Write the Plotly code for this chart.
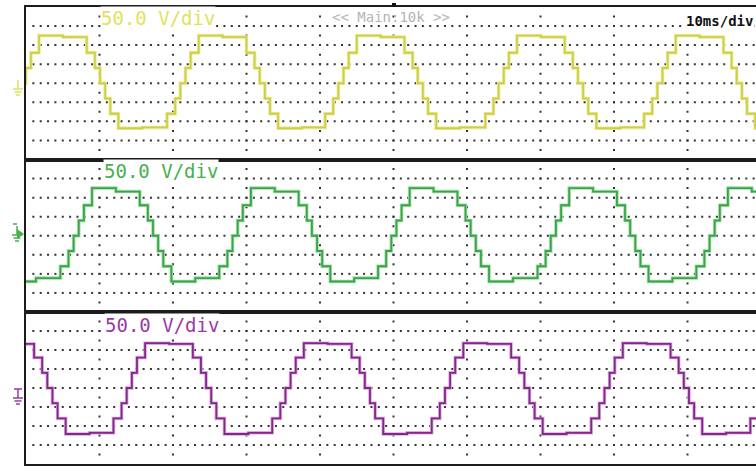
import plotly.graph_objects as go

# ---------------- scope settings / values ----------------
TIME_PER_DIV_MS = 10
VOLTS_PER_DIV = 50
X_RANGE_MS = [0, 99.32]        # screen is cropped on the right
Y_RANGE_V = [-200, 200]        # 8 vertical divisions

# shape of one edge of the 7-level staircase (V and ms after the plateau ends)
fall_levels_v = [80, 40, 0, -40, -80]
fall_offsets_ms = [0.0, 1.1, 1.8, 2.5, 3.2]
edge_ms = 4.3
plateau_ms = 6.5
period_ms = 21.65

# start of each positive plateau (ms), per channel
yellow_starts = [-19.9, 1.77, 23.5, 45.0, 66.8, 88.4]
green_starts = [-12.7, 8.98, 30.6, 52.2, 73.9, 95.5]
purple_starts = [-5.4, 16.2, 37.8, 59.5, 81.2]

# plateau levels (start, end) in V
yellow_top = [125, 121]
yellow_bot = [-118, -116]
green_top = [125, 116]
green_bot = [-120, -111]
purple_top = [118, 116]
purple_bot = [-121, -118]

labels = ["50.0 V/div", "50.0 V/div", "50.0 V/div"]
timebase_label = "10ms/div"
mode_label = "<< Main:10k >>"

# ---------------- geometry ----------------
W, H = 756, 466
ML, MR, MT, MB = 26, 0, 7, 2
PW = W - ML - MR
PH = H - MT - MB
panel_edges_px = [7, 159.5, 312, 464]


def px(x):
    return (x - ML) / PW


def py(y):
    return (H - MB - y) / PH


def staircase(starts, top, bot):
    xs, ys = [], []
    for i, ts in enumerate(starts):
        tn = starts[i + 1] if i + 1 < len(starts) else ts + period_ms
        xs += [ts, ts + plateau_ms / 2]
        ys += [top[0], top[1]]
        te = ts + plateau_ms
        for lv, off in zip(fall_levels_v, fall_offsets_ms):
            xs.append(te + off)
            ys.append(lv)
        tb = te + edge_ms
        xs += [tb, tb + plateau_ms / 2]
        ys += [bot[0], bot[1]]
        tr = tn - edge_ms
        for lv, off in zip(fall_levels_v[::-1], fall_offsets_ms):
            xs.append(tr + off)
            ys.append(lv)
    return xs, ys


fig = go.Figure()

axis_ids = [("x", "y"), ("x2", "y2"), ("x3", "y3")]

# dotted graticule
row_x = [float(k) for k in range(1, 100)]
row_levels = [-150, -100, -50, 0, 50, 100, 150]
col_x = [10, 20, 30, 40, 50, 60, 70, 80, 90]
col_levels = [25 * k for k in range(-7, 8)]
for xa, ya in axis_ids:
    gx, gy = [], []
    for lv in row_levels:
        gx += row_x
        gy += [lv] * len(row_x)
    for cx in col_x:
        gx += [cx] * len(col_levels)
        gy += col_levels
    fig.add_trace(go.Scatter(x=gx, y=gy, mode="markers", xaxis=xa, yaxis=ya,
                             marker=dict(size=2, color="#333333", symbol="square", line=dict(width=0)),
                             hoverinfo="skip", showlegend=False))

channels = [
    (yellow_starts, yellow_top, yellow_bot, "#cfcf45", "#eaea9a"),
    (green_starts, green_top, green_bot, "#36a843", "#a8dcae"),
    (purple_starts, purple_top, purple_bot, "#86258e", "#d7acdb"),
]
for (xa, ya), (starts, top, bot, col, halo) in zip(axis_ids, channels):
    xs, ys = staircase(starts, top, bot)
    fig.add_trace(go.Scatter(x=xs, y=ys, mode="lines", line_shape="hv", xaxis=xa, yaxis=ya,
                             line=dict(color=halo, width=3.5), hoverinfo="skip", showlegend=False))
    fig.add_trace(go.Scatter(x=xs, y=ys, mode="lines", line_shape="hv", xaxis=xa, yaxis=ya,
                             line=dict(color=col, width=1.8), hoverinfo="skip", showlegend=False))

layout = dict(width=W, height=H, margin=dict(l=ML, r=MR, t=MT, b=MB),
              paper_bgcolor="white", plot_bgcolor="white", showlegend=False)
for i, (xa, ya) in enumerate(axis_ids):
    sfx = "" if i == 0 else str(i + 1)
    dom = [py(panel_edges_px[i + 1]), py(panel_edges_px[i])]
    layout["xaxis" + sfx] = dict(range=X_RANGE_MS, domain=[0, 1], anchor=ya, showgrid=False,
                                 zeroline=False, showticklabels=False, ticks="", showline=True,
                                 mirror=True, linecolor="#1c1c1c", linewidth=2)
    layout["yaxis" + sfx] = dict(range=Y_RANGE_V, domain=dom, anchor=xa, showgrid=False,
                                 zeroline=False, showticklabels=False, ticks="", showline=True,
                                 mirror=False, linecolor="#1c1c1c", linewidth=2)
fig.update_layout(**layout)

# text labels
text_cols = ["#e2e25a", "#45b04e", "#9a3aa6"]
text_pos = [(158, 18), (161, 171), (162, 325)]
for lab, c, (tx, ty) in zip(labels, text_cols, text_pos):
    fig.add_annotation(x=px(tx), y=py(ty), xref="paper", yref="paper", text=lab, showarrow=False,
                       font=dict(family="DejaVu Sans Mono", size=19, color=c),
                       bgcolor="white", borderpad=0, xanchor="center", yanchor="middle")
fig.add_annotation(x=px(755), y=py(21), xref="paper", yref="paper", text="<b>" + timebase_label + "</b>",
                   showarrow=False, font=dict(family="DejaVu Sans Mono", size=14, color="#111111"),
                   bgcolor="white", borderpad=1, xanchor="right", yanchor="middle")
fig.add_annotation(x=px(391), y=py(17), xref="paper", yref="paper",
                   text=mode_label.replace("<", "&lt;").replace(">", "&gt;"),
                   showarrow=False, font=dict(family="DejaVu Sans Mono", size=14, color="#b4b4b4"),
                   xanchor="center", yanchor="middle")

# trigger position marker
fig.add_shape(type="rect", xref="paper", yref="paper", x0=px(392), x1=px(396), y0=py(7), y1=py(3),
              fillcolor="#111111", line=dict(width=0))


def ground(cx, ytop, col, cap=False):
    segs = []
    if cap:
        segs.append((cx - 4, ytop, cx + 4, ytop))
    segs.append((cx, ytop, cx, ytop + 9))
    segs.append((cx - 5, ytop + 9, cx + 5, ytop + 9))
    segs.append((cx - 3.5, ytop + 12, cx + 3.5, ytop + 12))
    segs.append((cx - 2, ytop + 15, cx + 2, ytop + 15))
    for x0, y0, x1, y1 in segs:
        fig.add_shape(type="line", xref="paper", yref="paper", x0=px(x0), x1=px(x1), y0=py(y0), y1=py(y1),
                      line=dict(color=col, width=1.5))


ground(18, 80, "#e2e25a")
ground(17, 226, "#45b04e")
fig.add_shape(type="path", xref="paper", yref="paper",
              path="M %f %f L %f %f L %f %f Z" % (px(17), py(229), px(24), py(234), px(17), py(239)),
              fillcolor="#45b04e", line=dict(width=0))
fig.add_shape(type="line", xref="paper", yref="paper", x0=px(13), x1=px(17), y0=py(224), y1=py(224),
              line=dict(color="#45b04e", width=1.5))
ground(18, 389, "#9a3aa6", cap=True)

fig.write_html("out.html")
